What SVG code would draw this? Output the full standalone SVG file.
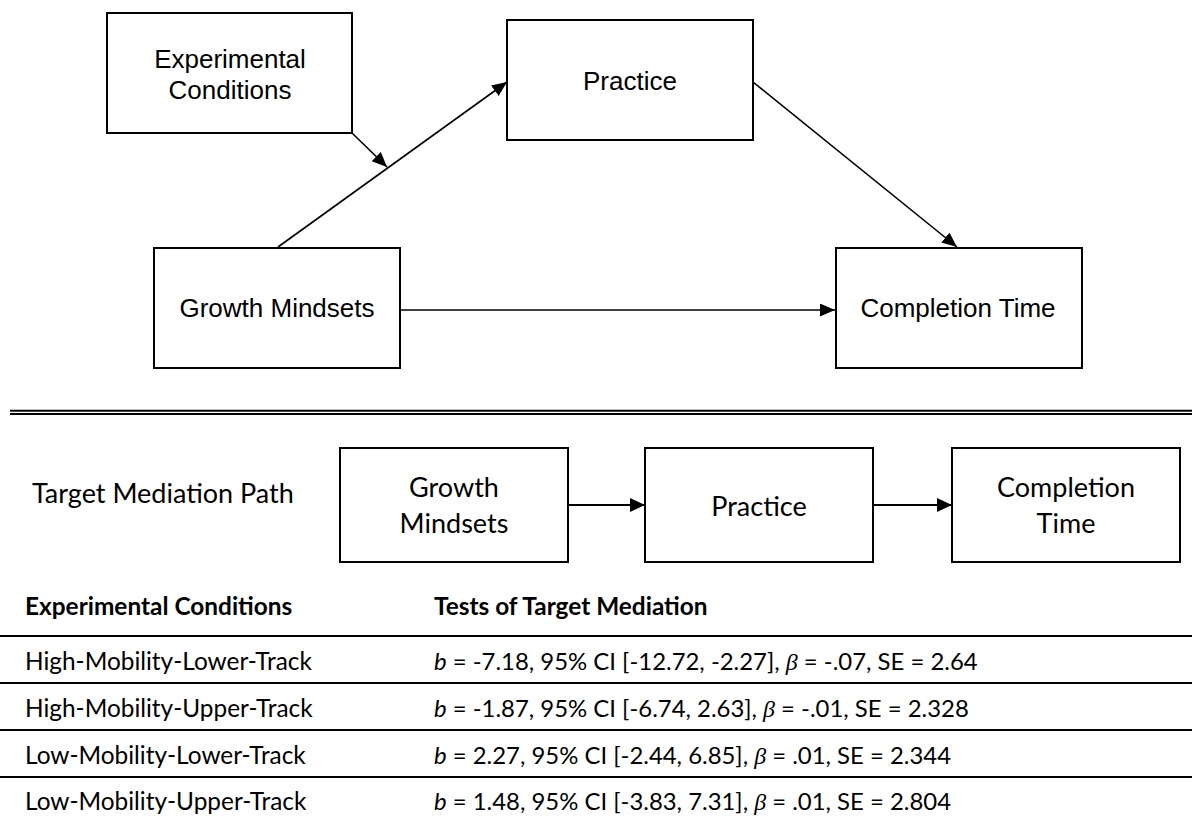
<svg xmlns="http://www.w3.org/2000/svg" width="1192" height="821" viewBox="0 0 1192 821">
<style>
.box{fill:#fff;stroke:#000;stroke-width:2}
.t1{font-family:"Liberation Sans",Arial,sans-serif;font-size:26px;fill:#000;text-anchor:middle}
.t2{font-family:Lato,"Open Sans",sans-serif;font-size:27px;fill:#000}
.t3{font-family:Lato,"Open Sans",sans-serif;font-size:24.4px;fill:#000}
.t4{font-family:Lato,"Open Sans",sans-serif;font-size:23.9px;fill:#000}
.c{text-anchor:middle}
.b{font-weight:bold}
.i{font-style:italic}
.g{font-family:"Liberation Serif",serif;font-style:italic}
.ln{stroke:#000;stroke-width:1.6;fill:none}
.ln2{stroke:#000;stroke-width:2.2;fill:none}
.rule{stroke:#000;stroke-width:2}
</style>
<defs>
<marker id="a1" markerUnits="userSpaceOnUse" markerWidth="16" markerHeight="14" refX="15" refY="6.5" orient="auto">
<path d="M0,0 L15,6.5 L0,13 Z" fill="#000"/>
</marker>
<marker id="a2" markerUnits="userSpaceOnUse" markerWidth="16" markerHeight="15" refX="15" refY="7" orient="auto">
<path d="M0,0 L15,7 L0,14 Z" fill="#000"/>
</marker>
</defs>
<rect width="1192" height="821" fill="#fff"/>

<g id="connectors">
<line class="ln" x1="352" y1="133" x2="387" y2="167" marker-end="url(#a1)"/>
<line class="ln" x1="278" y1="247" x2="507" y2="82" marker-end="url(#a1)"/>
<line class="ln" x1="753" y1="82" x2="957" y2="247" marker-end="url(#a1)"/>
<line class="ln" x1="401" y1="310" x2="835" y2="310" marker-end="url(#a1)"/>
<line class="ln2" x1="568" y1="505" x2="645" y2="505" marker-end="url(#a2)"/>
<line class="ln2" x1="873" y1="505" x2="952" y2="505" marker-end="url(#a2)"/>
</g>

<g id="n-exp">
<rect class="box" x="107" y="13" width="245" height="120"/>
<text class="t1" x="230" y="68">Experimental</text>
<text class="t1" x="230" y="99">Conditions</text>
</g>
<g id="n-practice">
<rect class="box" x="507" y="20" width="246" height="120"/>
<text class="t1" x="630" y="90">Practice</text>
</g>
<g id="n-growth">
<rect class="box" x="154" y="248" width="246" height="120"/>
<text class="t1" x="277" y="317">Growth Mindsets</text>
</g>
<g id="n-completion">
<rect class="box" x="836" y="248" width="246" height="120"/>
<text class="t1" x="958" y="317">Completion Time</text>
</g>

<g id="divider">
<line class="rule" x1="10" y1="410.7" x2="1192" y2="410.7"/>
<line class="rule" x1="10" y1="414" x2="1192" y2="414"/>
</g>

<text class="t2" x="32" y="503">Target Mediation Path</text>

<g id="p-growth">
<rect class="box" x="340" y="448" width="228" height="114"/>
<text class="t2 c" x="454" y="497">Growth</text>
<text class="t2 c" x="454" y="533">Mindsets</text>
</g>
<g id="p-practice">
<rect class="box" x="645" y="448" width="228" height="114"/>
<text class="t2 c" x="759" y="516">Practice</text>
</g>
<g id="p-completion">
<rect class="box" x="952" y="448" width="228" height="114"/>
<text class="t2 c" x="1066" y="497">Completion</text>
<text class="t2 c" x="1066" y="533">Time</text>
</g>

<g id="table">
<text class="t3 b" x="25" y="615">Experimental Conditions</text>
<text class="t3 b" x="434" y="615">Tests of Target Mediation</text>
<line class="rule" x1="0" y1="636" x2="1192" y2="636"/>
<line class="rule" x1="0" y1="683" x2="1192" y2="683"/>
<line class="rule" x1="0" y1="730" x2="1192" y2="730"/>
<line class="rule" x1="0" y1="777" x2="1192" y2="777"/>
<text class="t3" x="25" y="670">High-Mobility-Lower-Track</text>
<text class="t3" x="25" y="717">High-Mobility-Upper-Track</text>
<text class="t3" x="25" y="764">Low-Mobility-Lower-Track</text>
<text class="t3" x="25" y="810">Low-Mobility-Upper-Track</text>
<text class="t4" x="434" y="670"><tspan class="i">b</tspan> = -7.18, 95% CI [-12.72, -2.27], <tspan class="g">β</tspan> = -.07, SE = 2.64</text>
<text class="t4" x="434" y="717"><tspan class="i">b</tspan> = -1.87, 95% CI [-6.74, 2.63], <tspan class="g">β</tspan> = -.01, SE = 2.328</text>
<text class="t4" x="434" y="764"><tspan class="i">b</tspan> = 2.27, 95% CI [-2.44, 6.85], <tspan class="g">β</tspan> = .01, SE = 2.344</text>
<text class="t4" x="434" y="810"><tspan class="i">b</tspan> = 1.48, 95% CI [-3.83, 7.31], <tspan class="g">β</tspan> = .01, SE = 2.804</text>
</g>
</svg>
